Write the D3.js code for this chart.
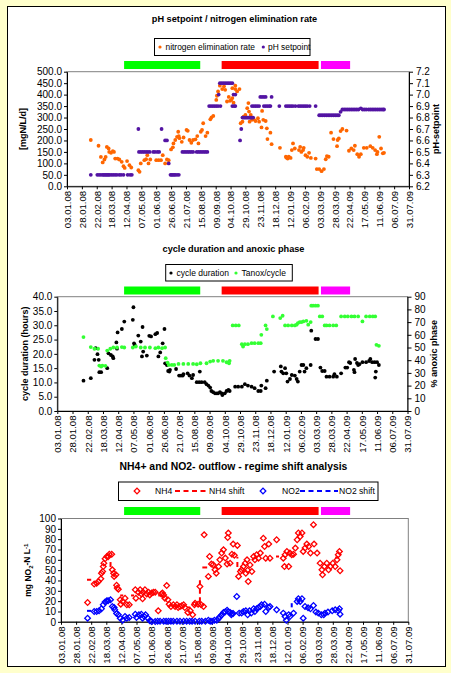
<!DOCTYPE html>
<html><head><meta charset="utf-8">
<script src="https://cdn.jsdelivr.net/npm/d3@7/dist/d3.min.js"></script>
<style>
body{margin:0;background:#FFFFCC;}
svg{display:block;}
text{font-family:"Liberation Sans",Arial,sans-serif;}
</style></head><body>
<svg id="c" width="451" height="673"></svg>
<script>
// ---------------- DATA ----------------
const xTickLabels = ["03.01.08","28.01.08","22.02.08","18.03.08","12.04.08","07.05.08","01.06.08","26.06.08","21.07.08","15.08.08","09.09.08","04.10.08","29.10.08","23.11.08","18.12.08","12.01.09","06.02.09","03.03.09","28.03.09","22.04.09","17.05.09","11.06.09","06.07.09","31.07.09"];
const periods = [["08.04.08","14.08.08","green"],["19.09.08","01.03.09","red"],["05.03.09","23.04.09","magenta"]];

// panel 1 (day offsets from 03.01.08, value)
const nerTicks = [0,50,100,150,200,250,300,350,400,450,500];
const phTicks = [6.2,6.3,6.4,6.5,6.6,6.7,6.8,6.9,7.0,7.1,7.2];
const nitrogenRate = [[40,202],[53,177],[57,128],[60,104],[63,117],[65,128],[67,172],[70,165],[71,150],[74,146],[77,153],[79,150],[81,121],[85,121],[88,117],[92,107],[95,88],[97,80],[101,110],[105,92],[108,82],[120,70],[122,63],[124,100],[130,114],[133,118],[135,136],[137,100],[140,117],[150,114],[154,114],[158,114],[161,136],[165,100],[168,117],[171,114],[175,161],[178,170],[179,187],[182,202],[185,216],[187,238],[188,219],[189,210],[193,194],[196,213],[201,246],[203,242],[206,202],[209,190],[212,202],[216,205],[219,219],[221,187],[225,238],[227,246],[229,275],[233,219],[236,234],[241,292],[243,301],[246,307],[251,377],[252,395],[254,414],[257,439],[261,424],[264,436],[266,421],[269,370],[272,390],[274,373],[276,377],[278,385],[280,365],[283,424],[286,414],[290,424],[278,428],[283,439],[292,275],[295,282],[297,304],[300,311],[303,341],[305,363],[306,326],[307,282],[309,311],[311,290],[314,292],[317,285],[321,297],[323,282],[327,257],[328,329],[330,290],[334,285],[336,253],[337,206],[342,234],[344,184],[358,168],[368,129],[369,125],[371,121],[372,126],[373,129],[376,124],[378,158],[380,187],[383,165],[390,158],[392,172],[394,150],[397,158],[398,168],[401,136],[404,129],[407,146],[410,124],[418,121],[420,75],[424,75],[428,66],[432,75],[435,118],[437,132],[440,129],[444,234],[448,206],[454,175],[455,202],[457,209],[460,241],[463,250],[470,243],[474,155],[478,165],[482,158],[484,177],[488,140],[491,129],[494,140],[499,168],[504,168],[510,175],[514,168],[518,158],[521,140],[522,150],[525,216],[528,165],[531,144],[533,146]];
const phSetpoint = [[40,6.3],[51,6.3],[54,6.3],[57,6.3],[60,6.3],[62,6.3],[64,6.3],[66,6.3],[68,6.3],[70,6.3],[72,6.3],[75,6.3],[78,6.3],[81,6.3],[84,6.3],[88,6.3],[91,6.3],[95,6.3],[102,6.3],[106,6.3],[109,6.3],[120,6.7],[121,6.5],[124,6.5],[127,6.5],[130,6.5],[133,6.5],[136,6.5],[139,6.5],[145,6.5],[148,6.5],[152,6.5],[155,6.5],[159,6.7],[165,6.6],[168,6.6],[171,6.4],[174,6.3],[176,6.3],[178,6.3],[180,6.3],[182,6.3],[185,6.3],[188,6.3],[194,6.5],[197,6.5],[200,6.5],[203,6.5],[206,6.5],[209,6.5],[212,6.5],[218,6.5],[221,6.5],[224,6.5],[227,6.5],[230,6.5],[233,6.5],[236,6.5],[239,6.9],[242,6.9],[245,6.9],[248,6.9],[251,6.9],[254,6.9],[258,6.9],[255,7.0],[257,7.1],[260,7.1],[263,7.1],[266,7.1],[269,7.1],[272,7.1],[275,7.1],[278,7.1],[278,6.9],[281,6.9],[283,6.9],[280,7.0],[283,7.0],[291,6.6],[293,6.7],[295,6.8],[297,6.8],[299,6.8],[301,6.8],[303,6.8],[305,6.8],[307,6.8],[309,6.8],[311,6.8],[313,6.8],[311,6.9],[314,6.9],[317,6.9],[320,6.9],[323,6.9],[325,6.98],[328,6.98],[331,6.98],[334,6.98],[344,6.98],[331,6.9],[334,6.9],[337,6.9],[340,6.9],[342,6.9],[357,6.9],[368,6.9],[371,6.9],[374,6.9],[377,6.9],[380,6.9],[384,6.9],[389,6.9],[392,6.9],[395,6.9],[398,6.9],[401,6.9],[404,6.9],[408,6.9],[418,6.9],[424,6.82],[427,6.82],[430,6.82],[433,6.82],[436,6.82],[439,6.82],[442,6.82],[445,6.82],[448,6.82],[451,6.82],[454,6.82],[457,6.82],[460,6.85],[463,6.87],[466,6.87],[469,6.87],[472,6.87],[475,6.87],[478,6.87],[481,6.87],[484,6.87],[487,6.87],[490,6.87],[494,6.88],[497,6.87],[500,6.87],[503,6.87],[507,6.87],[510,6.87],[513,6.87],[516,6.87],[519,6.87],[522,6.87],[525,6.87],[528,6.87],[531,6.87],[533,6.87]];

// panel 2
const cycTicks = [0,5,10,15,20,25,30,35,40];
const anoxTicks = [0,10,20,30,40,50,60,70,80,90];
const cycleDuration = [[43,10.6],[55,11.5],[61,17.9],[63,22.0],[66,19.9],[68,17.9],[69,13.6],[72,13.6],[82,15.0],[84,20.2],[88,19.6],[91,19.1],[92,18.5],[97,24.0],[98,21.8],[99,27.5],[106,28.7],[110,31.3],[124,31.9],[125,36.3],[126,23.7],[127,23.2],[133,26.4],[137,24.3],[139,19.1],[140,29.4],[141,20.8],[147,19.4],[151,26.3],[154,26.1],[161,26.9],[164,27.3],[166,19.1],[169,20.5],[173,23.7],[176,28.7],[177,16.7],[180,16.1],[182,14.0],[184,13.8],[185,14.4],[195,14.7],[200,12.4],[203,12.4],[206,12.4],[207,12.9],[214,13.2],[217,12.4],[221,11.5],[223,12.6],[229,10.1],[233,10.1],[234,13.8],[237,10.1],[242,10.1],[245,9.4],[248,8.9],[251,8.2],[253,7.0],[256,6.6],[259,6.2],[262,6.2],[264,6.2],[267,6.6],[270,6.2],[271,5.6],[275,6.2],[278,7.0],[281,7.4],[283,7.0],[292,8.5],[297,8.5],[303,8.5],[308,9.4],[313,8.9],[319,8.5],[324,8.0],[330,7.0],[334,7.0],[335,8.9],[342,8.0],[344,10.6],[356,13.8],[367,15.6],[368,13.8],[371,13.2],[374,15.0],[376,13.2],[378,10.3],[382,11.2],[385,12.6],[390,12.4],[393,11.2],[395,10.3],[398,13.8],[401,16.1],[404,16.1],[406,13.8],[409,15.0],[416,16.1],[417,28.1],[424,25.2],[428,25.2],[432,15.2],[435,14.0],[439,14.0],[442,12.0],[447,12.0],[453,12.0],[455,12.9],[459,12.0],[466,13.2],[473,15.2],[476,15.2],[479,17.1],[481,16.8],[487,14.4],[488,13.6],[489,18.2],[492,16.8],[494,16.1],[496,16.4],[501,17.1],[507,17.1],[512,17.5],[514,18.2],[517,17.1],[521,17.1],[522,11.7],[523,13.8],[525,17.1],[528,16.1]];
const tanoxCycle = [[43,58.2],[55,50.3],[61,49.0],[67,49.0],[69,35.8],[72,35.0],[74,35.8],[79,35.6],[82,47.6],[87,49.0],[92,50.0],[98,50.0],[106,50.3],[110,50.0],[124,50.0],[129,50.8],[137,50.0],[144,50.0],[152,50.0],[161,49.5],[166,50.0],[172,49.5],[177,50.0],[178,41.6],[181,38.1],[183,36.3],[188,36.3],[192,36.3],[199,37.1],[207,37.1],[215,37.1],[223,37.1],[229,36.8],[235,37.6],[245,37.6],[251,38.9],[256,39.5],[264,39.5],[272,39.5],[278,38.4],[282,37.6],[283,39.5],[288,67.4],[293,67.4],[298,67.4],[303,52.6],[305,50.8],[308,52.6],[313,52.6],[319,53.4],[324,53.4],[330,53.4],[334,53.4],[335,60.0],[342,67.4],[344,64.5],[354,74.5],[366,73.2],[370,75.0],[374,67.4],[379,67.4],[385,67.4],[390,67.4],[393,68.0],[395,69.2],[398,70.0],[401,70.0],[404,70.5],[409,71.0],[412,68.0],[416,70.0],[417,82.9],[420,82.9],[424,82.9],[428,82.9],[431,74.5],[435,74.5],[439,67.4],[442,67.4],[447,67.4],[453,67.4],[458,67.4],[466,74.5],[472,74.5],[477,74.5],[483,74.5],[488,74.5],[494,74.5],[501,70.5],[507,74.5],[513,74.5],[518,74.5],[522,74.5],[524,52.1],[528,51.3]];

// panel 3
const nTicks = [0,10,20,30,40,50,60,70,80,90,100];
const nh4 = [[44,18.7],[55,36.5],[59,37.4],[62,39],[66,41.6],[67,47.1],[69,48.7],[70,53.5],[71,56.8],[73,61],[76,63.2],[78,63],[80,65.5],[84,65.5],[85,50.3],[87,47.1],[88,43.9],[91,45.5],[92,35.5],[93,32.6],[95,31.6],[98,21.3],[99,17.1],[102,19.7],[106,22.9],[109,16.5],[113,16.5],[123,31],[124,22.9],[128,28.7],[131,31],[133,27],[135,22.3],[136,28.7],[139,31],[142,27],[145,28.7],[147,26],[150,27.8],[153,28.7],[156,28.7],[161,10.6],[166,26.8],[168,27.8],[170,26],[172,22.9],[175,35.1],[177,21.3],[179,17.1],[182,14.8],[186,16.5],[189,14.8],[192,16.5],[194,13.8],[197,14.8],[200,15.5],[203,16.5],[205,13.8],[210,9.1],[214,10.6],[218,6.8],[221,16.5],[222,18],[227,17.1],[230,34.2],[232,16.5],[236,14.8],[237,84.2],[244,43.9],[246,63.2],[249,55.9],[252,55.2],[255,50.3],[257,47.1],[261,53.5],[263,60],[266,66.5],[269,69.7],[272,61.7],[275,55.9],[276,81.6],[277,85.9],[280,56.8],[283,65.5],[285,75.2],[287,64.5],[292,73.9],[294,43.9],[297,48.7],[299,50.3],[302,53.5],[305,56.8],[306,47],[308,60],[309,50],[310,39],[313,55],[316,48.7],[319,63.2],[321,60],[324,65],[327,61.6],[330,66.5],[335,81],[337,72.9],[339,61.6],[344,75.2],[346,61.6],[357,79.4],[368,61.6],[370,53.5],[371,65],[374,68.1],[377,53.5],[379,66.5],[382,65],[385,65.5],[388,71.4],[391,79.4],[393,86],[396,82.6],[399,86],[401,68.1],[404,71.4],[407,75.2],[410,72.9],[413,66.5],[418,94],[419,75.2],[424,66.5],[429,56.8],[432,50.3],[433,45.5],[436,53.5],[440,56.8],[443,50.3],[446,53.5],[450,56.8],[454,53.5],[457,60],[459,65],[461,68.1],[462,49.4]];
const no2 = [[44,3.5],[55,10],[59,10],[63,10.6],[67,12.6],[70,16.5],[73,19.1],[76,20.3],[78,20.3],[82,21.3],[85,14.8],[88,13.8],[89,11.6],[92,8.1],[95,6.8],[98,3.5],[102,1.6],[106,5.1],[109,3.5],[113,4.2],[123,7.4],[125,4.2],[129,6.8],[133,7.4],[135,3.5],[138,5.1],[140,6.8],[144,3.5],[147,1],[150,0.3],[156,0.3],[160,0.5],[164,0.5],[170,0.6],[174,0.5],[178,0.5],[182,0.6],[186,0.5],[192,0.6],[197,0.5],[203,0.5],[208,0.6],[213,0.5],[217,0.5],[222,0.5],[229,0.6],[233,0.5],[239,0.5],[244,1.6],[247,0.6],[250,0.6],[254,1.6],[258,1.6],[261,3.2],[263,4.8],[266,6.5],[269,9.1],[272,9.7],[275,11.3],[277,9.7],[280,9.1],[283,8.1],[285,8.1],[282,6.8],[291,24.5],[295,8.4],[299,8.4],[302,10],[306,10.6],[309,6.8],[312,10.6],[315,8.4],[319,12.6],[321,10],[324,12.6],[327,13.8],[330,14.8],[332,16.5],[337,17.1],[339,10],[344,13.8],[346,14.8],[357,11.6],[368,8.4],[371,5.1],[373,1.6],[377,6.8],[379,5.1],[385,8.4],[391,19.7],[393,22.3],[396,19.7],[399,22.3],[401,3.5],[404,14.8],[409,13.5],[413,12.6],[418,15.8],[422,9.4],[426,8.4],[431,6.8],[435,6.8],[437,8.4],[442,9.4],[449,10.6],[454,11.6],[459,10.6],[461,12.6],[462,7.4]];
// regime-shift levels: only the visible (unobscured) fragments of each step line
const nh4Shift = [[[43,40.7],[50,40.7]],[[82,53],[82,58]],[[98,25.5],[103,25.5]],[[116,25.5],[121,25.5]],[[161,25.5],[167,25.5]],[[209,13.9],[214,13.9]],[[230,19],[230,43]],[[234,52.6],[242,52.6]],[[292,53],[292,63]],[[356,63.2],[361,63.2]],[[454,62.2],[459,62.2]]];
const no2Shift = [[[43,10.6],[50,10.6]],[[382,14],[382,18]]];

// ---------------- DRAW ----------------
const parse = d3.utcParse("%d.%m.%y");
const xTickDates = xTickLabels.map(parse);
const t0 = xTickDates[0];
const dt = d => d3.utcDay.offset(t0, d);
const FONT = '"Liberation Sans",Arial,sans-serif';
const svg = d3.select("#c");
svg.append("rect").attr("width",451).attr("height",673).attr("fill","#FFFFCC");
svg.append("rect").attr("x",7.5).attr("y",6.5).attr("width",438).attr("height",660).attr("fill","#fff").attr("stroke","#000");

const periodColor = {green:"#00ff00", red:"#ff0000", magenta:"#ff00ff"};
const xRef = d3.scaleUtc().domain([xTickDates[0], xTickDates[xTickDates.length-1]]).range([67,409]);

function styleAxis(g, size){
  g.attr("font-family",FONT).attr("font-size",size||10);
  g.selectAll("text").attr("fill","#000");
  g.selectAll("line").attr("stroke","#000");
  g.select(".domain").attr("stroke","#000");
}

function drawPanel(o){
  const x = d3.scaleUtc().domain([xTickDates[0], xTickDates[xTickDates.length-1]]).range([o.x0,o.x1]);
  const yL = d3.scaleLinear().domain(o.yLdom).range([o.yb,o.yt]);
  svg.append("text").attr("x",o.titleX).attr("y",o.titleY).attr("text-anchor","middle")
    .attr("font-weight","bold").attr("font-size",o.titleSize).text(o.title);
  svg.append("g").selectAll("rect").data(periods).join("rect")
    .attr("x",d=>xRef(parse(d[0]))).attr("width",d=>xRef(parse(d[1]))-xRef(parse(d[0])))
    .attr("y",o.barY).attr("height",8).attr("fill",d=>periodColor[d[2]]);
  svg.append("rect").attr("x",o.x0).attr("y",o.yt).attr("width",o.x1-o.x0).attr("height",o.yb-o.yt)
    .attr("fill","none").attr("stroke","#808080");
  const gl = svg.append("g").attr("transform",`translate(${o.x0},0)`)
    .call(d3.axisLeft(yL).tickValues(o.yLticks).tickFormat(d3.format(o.yLfmt)).tickSize(3).tickPadding(2).tickSizeOuter(0));
  styleAxis(gl);
  let yR = null;
  if(o.yRdom){
    yR = d3.scaleLinear().domain(o.yRdom).range([o.yb,o.yt]);
    const gr = svg.append("g").attr("transform",`translate(${o.x1},0)`)
      .call(d3.axisRight(yR).tickValues(o.yRticks).tickFormat(d3.format(o.yRfmt)).tickSize(4).tickPadding(3).tickSizeOuter(0));
    styleAxis(gr);
  }
  const gb = svg.append("g").attr("transform",`translate(0,${o.yb})`)
    .call(d3.axisBottom(x).tickValues(xTickDates).tickFormat((d,i)=>xTickLabels[i]).tickSize(3).tickSizeOuter(0));
  styleAxis(gb, 9.6);
  gb.selectAll("text").attr("transform","rotate(-90)").attr("text-anchor","end")
    .attr("x",-4.5).attr("y",0).attr("dy","0.35em");
  const lt = svg.append("text").attr("transform",`translate(${o.ltX},${(o.yt+o.yb)/2}) rotate(-90)`)
    .attr("text-anchor","middle").attr("dy","0.35em").attr("font-weight","bold").attr("font-size",o.axisTitleSize||9);
  if(o.ltParts){ o.ltParts.forEach(p=>{ lt.append("tspan").attr("dy",p[1]).attr("font-size",p[2]||null).text(p[0]); }); }
  else lt.text(o.lt);
  if(o.rt) svg.append("text").attr("transform",`translate(${o.rtX},${(o.yt+o.yb)/2}) rotate(-90)`)
    .attr("text-anchor","middle").attr("dy","0.35em").attr("font-weight","bold").attr("font-size",9).text(o.rt);
  return {x,yL,yR};
}

function dots(data,x,y,color){
  svg.append("g").selectAll("circle").data(data).join("circle")
    .attr("cx",d=>x(dt(d[0]))).attr("cy",d=>y(d[1])).attr("r",1.9).attr("fill",color);
}
const diamond = d3.symbol().type(d3.symbolSquare).size(16)();
function diamonds(data,x,y,color){
  svg.append("g").selectAll("path").data(data).join("path")
    .attr("d",diamond).attr("transform",d=>`translate(${x(dt(d[0]))},${y(d[1])}) rotate(45)`)
    .attr("fill","none").attr("stroke",color).attr("stroke-width",1.3);
}
function legendBox(x,y,w,h){
  svg.append("rect").attr("x",x).attr("y",y).attr("width",w).attr("height",h).attr("fill","#fff").attr("stroke","#000");
}
function legText(x,y,t,size){
  svg.append("text").attr("x",x).attr("y",y).attr("dy","0.35em").attr("font-size",size).text(t);
}

// Panel 1
const p1 = drawPanel({title:"pH setpoint / nitrogen elimination rate",titleX:234.5,titleY:21.5,titleSize:9.2,
  barY:61,x0:67,x1:409,yt:71.7,yb:186.3,yLdom:[0,500],yLticks:nerTicks,yLfmt:".1f",
  yRdom:[6.2,7.2],yRticks:phTicks,yRfmt:".1f",lt:"[mgN/L/d]",ltX:22.5,rt:"pH-setpoint",rtX:436});
dots(nitrogenRate,p1.x,p1.yL,"#ff6600");
dots(phSetpoint,p1.x,p1.yR,"#5314a3");
legendBox(154.5,38.5,155.5,17);
svg.append("circle").attr("cx",160).attr("cy",47).attr("r",1.6).attr("fill","#ff6600");
legText(165.5,47,"nitrogen elimination rate",8.4);
svg.append("circle").attr("cx",263.3).attr("cy",47).attr("r",1.6).attr("fill","#5314a3");
legText(268,47,"pH setpoint",8.4);

// Panel 2
const p2 = drawPanel({title:"cycle duration and anoxic phase",titleX:233.5,titleY:252,titleSize:9.2,
  barY:286.5,x0:57.3,x1:407.5,yt:296.7,yb:411,yLdom:[0,40],yLticks:cycTicks,yLfmt:".1f",
  yRdom:[0,90],yRticks:anoxTicks,yRfmt:"d",lt:"cycle duration (hours)",ltX:25,rt:"% anoxic phase",rtX:433.5});
dots(cycleDuration,p2.x,p2.yL,"#000");
dots(tanoxCycle,p2.x,p2.yR,"#33ff33");
legendBox(165.7,264.5,126.6,16.5);
svg.append("circle").attr("cx",171).attr("cy",273).attr("r",1.6).attr("fill","#000");
legText(176.5,273,"cycle duration",8.5);
svg.append("circle").attr("cx",236).attr("cy",273).attr("r",1.6).attr("fill","#33ff33");
legText(241.5,273,"Tanox/cycle",8.5);

// Panel 3
const p3 = drawPanel({title:"NH4+ and NO2- outflow - regime shift analysis",titleX:233.5,titleY:470,titleSize:10.4,
  barY:507,x0:61,x1:408.3,yt:518.5,yb:621.8,yLdom:[0,100],yLticks:nTicks,yLfmt:"d",
  ltX:31,axisTitleSize:8.5,ltParts:[["mg NO",0],["2","0.25em",6],["-N L","-0.25em"],["-1","-0.35em",6]]});
const shiftLine = d3.line().x(d=>p3.x(dt(d[0]))).y(d=>p3.yL(d[1]));
svg.append("g").selectAll("path").data(nh4Shift).join("path").attr("d",shiftLine)
  .attr("fill","none").attr("stroke","#ff0000").attr("stroke-width",2).attr("stroke-dasharray","5,3.5");
svg.append("g").selectAll("path").data(no2Shift).join("path").attr("d",shiftLine)
  .attr("fill","none").attr("stroke","#0000ff").attr("stroke-width",2).attr("stroke-dasharray","5,3.5");
diamonds(nh4,p3.x,p3.yL,"#ff0000");
diamonds(no2,p3.x,p3.yL,"#0000ff");
legendBox(118.5,482,259.5,18.5);
svg.append("path").attr("d",diamond).attr("transform","translate(137,491) rotate(45)").attr("fill","none").attr("stroke","#ff0000").attr("stroke-width",1.3);
legText(155,491,"NH4",8.6);
svg.append("line").attr("x1",175).attr("x2",208).attr("y1",491).attr("y2",491).attr("stroke","#ff0000").attr("stroke-width",2).attr("stroke-dasharray","5,3.5");
legText(209,491,"NH4 shift",8.6);
svg.append("path").attr("d",diamond).attr("transform","translate(263,491) rotate(45)").attr("fill","none").attr("stroke","#0000ff").attr("stroke-width",1.3);
legText(282,491,"NO2-",8.6);
svg.append("line").attr("x1",300).attr("x2",338).attr("y1",491).attr("y2",491).attr("stroke","#0000ff").attr("stroke-width",2).attr("stroke-dasharray","5,3.5");
legText(339,491,"NO2 shift",8.6);
</script>
</body></html>
